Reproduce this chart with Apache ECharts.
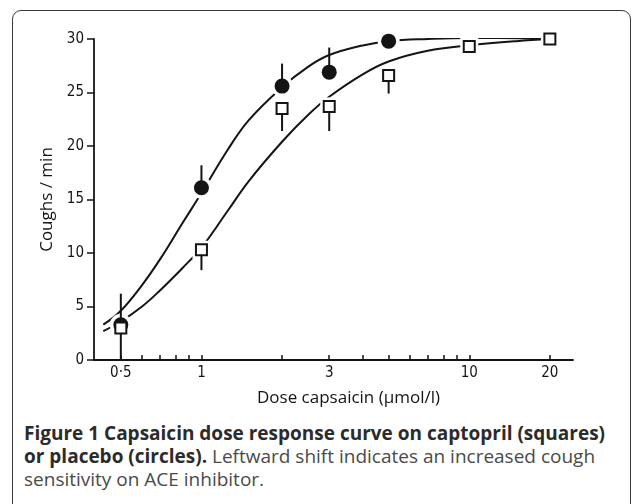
<!DOCTYPE html>
<html>
<head>
<meta charset="utf-8">
<script src="https://cdn.jsdelivr.net/npm/echarts@6/dist/echarts.min.js"></script>
<style>
  html, body { margin: 0; padding: 0; background: #fff; }
  body { width: 633px; height: 504px; position: relative; overflow: hidden; }
  #frame { position: absolute; left: 12px; top: 10px; width: 619px; height: 620px;
           border: 1.5px solid #3a3a3a; border-radius: 9px; box-sizing: border-box; }
  #chart { position: absolute; left: 0; top: 0; width: 633px; height: 420px; }
  #caption { position: absolute; left: 24px; top: 422px; width: 605px; white-space: nowrap;
             font-family: "Open Sans", sans-serif; font-size: 19px; line-height: 23px; color: #4a4a4a; }
  #caption b { color: #2b2b2b; font-weight: 700; }
</style>
</head>
<body>
<div id="frame"></div>
<div id="chart"></div>
<div id="caption"><b>Figure 1 Capsaicin dose response curve on captopril (squares)</b><br><b>or placebo (circles).</b> Leftward shift indicates an increased cough<br>sensitivity on ACE inhibitor.</div>
<script>
// ---- data ----
const doses = [0.5, 1, 2, 3, 5, 10, 20];
const placeboMean = [3.3, 16.1, 25.6, 26.9, 29.8, 30.1, 30.1];     // circles
const placeboErrHigh = [6.2, 18.2, 27.7, 29.2, null, null, null];
const captoprilMean = [3.0, 10.3, 23.5, 23.7, 26.6, 29.3, 30.0];   // squares
const captoprilErrLow = [0, 8.4, 21.4, 21.4, 24.9, null, null];

const placeboCurveX = [0.43, 0.5, 0.6, 0.7, 0.85, 1, 1.25, 1.5, 2, 2.5, 3, 4, 5, 7, 10, 20];
const placeboCurveY = [3.3, 4.6, 7.0, 9.4, 12.8, 15.6, 19.6, 22.4, 25.5, 27.4, 28.5, 29.4, 29.8, 30.0, 30.1, 30.05];
const captoprilCurveX = [0.43, 0.5, 0.6, 0.7, 0.85, 1, 1.25, 1.5, 2, 2.5, 3, 4, 5, 7, 10, 15, 20];
const captoprilCurveY = [2.7, 3.6, 5.0, 6.5, 8.6, 10.5, 13.9, 16.7, 20.4, 22.9, 24.6, 26.7, 27.9, 28.9, 29.4, 29.8, 30.0];

const xLabelValues = [0.5, 1, 3, 10, 20];
const xLabelTexts = ['0·5', '1', '3', '10', '20'];
const xTickValues = [0.5, 0.6, 0.7, 0.8, 0.9, 1, 2, 3, 4, 5, 6, 7, 8, 9, 10, 20];

const zip = (xs, ys) => xs.map((x, i) => [x, ys[i]]);
const errData = (xs, a, b) => xs.map((x, i) => b[i] == null ? null : [x, a[i], b[i]]).filter(Boolean);

const INK = '#141414';
const axisFont = "'Liberation Sans Narrow', 'DejaVu Sans Condensed', 'Noto Sans', sans-serif";
const nameFont = "'Open Sans', 'DejaVu Sans', sans-serif";

const chart = echarts.init(document.getElementById('chart'), null, { renderer: 'canvas' });

const errRender = (params, api) => {
  const p0 = api.coord([api.value(0), api.value(1)]);
  const p1 = api.coord([api.value(0), api.value(2)]);
  return { type: 'line', shape: { x1: p0[0], y1: p0[1], x2: p1[0], y2: p1[1] },
           style: { stroke: INK, lineWidth: 2 } };
};

chart.setOption({
  animation: false,
  grid: { left: 94, top: 39, width: 479, height: 321, containLabel: false },
  xAxis: {
    type: 'log', logBase: 10, min: 0.397, max: 24.4,
    name: 'Dose capsaicin (µmol/l)', nameLocation: 'middle', nameGap: 30,
    nameTextStyle: { fontFamily: nameFont, fontSize: 17, color: INK, padding: [0, 0, 0, 30] },
    axisLine: { show: true, lineStyle: { color: INK, width: 1.8 } },
    axisTick: { show: true, inside: true, length: 5, lineStyle: { color: INK, width: 1.5 }, customValues: xTickValues },
    axisLabel: { customValues: xLabelValues, margin: 6, fontFamily: axisFont, fontSize: 15, color: INK,
      formatter: v => { const i = xLabelValues.findIndex(t => Math.abs(t - v) < 1e-6); return i >= 0 ? xLabelTexts[i] : ''; } },
    splitLine: { show: false }, minorTick: { show: false }
  },
  yAxis: {
    type: 'value', min: 0, max: 30, interval: 5,
    name: 'Coughs / min', nameLocation: 'middle', nameGap: 35, nameRotate: 90,
    nameTextStyle: { fontFamily: nameFont, fontSize: 17, color: INK },
    axisLine: { show: true, lineStyle: { color: INK, width: 1.8 } },
    axisTick: { show: true, inside: false, length: 7, lineStyle: { color: INK, width: 1.5 } },
    axisLabel: { margin: 10, fontFamily: axisFont, fontSize: 15, color: INK },
    splitLine: { show: false }
  },
  series: [
    { type: 'line', data: zip(placeboCurveX, placeboCurveY), smooth: 0.4, symbol: 'none', z: 1,
      lineStyle: { color: INK, width: 2 } },
    { type: 'line', data: zip(captoprilCurveX, captoprilCurveY), smooth: 0.4, symbol: 'none', z: 1,
      lineStyle: { color: INK, width: 2 } },
    // white halos that open gaps in the curves around the markers
    { type: 'scatter', data: zip(doses, placeboMean), symbol: 'circle', symbolSize: 22, z: 2,
      itemStyle: { color: '#fff', opacity: 1 }, silent: true },
    { type: 'scatter', data: zip(doses, captoprilMean), symbol: 'rect', symbolSize: 18, z: 2,
      itemStyle: { color: '#fff', opacity: 1 }, silent: true },
    { type: 'custom', data: errData(doses, placeboMean, placeboErrHigh), renderItem: errRender, z: 3 },
    { type: 'custom', data: errData(doses, captoprilMean, captoprilErrLow), renderItem: errRender, z: 3 },
    { type: 'scatter', data: zip(doses, placeboMean), symbol: 'circle', symbolSize: 15, z: 4,
      itemStyle: { color: INK, opacity: 1 } },
    { type: 'scatter', data: zip(doses, captoprilMean), symbol: 'rect', symbolSize: 11, z: 5,
      itemStyle: { color: '#fff', borderColor: INK, borderWidth: 2, opacity: 1 } }
  ]
});
</script>
</body>
</html>
